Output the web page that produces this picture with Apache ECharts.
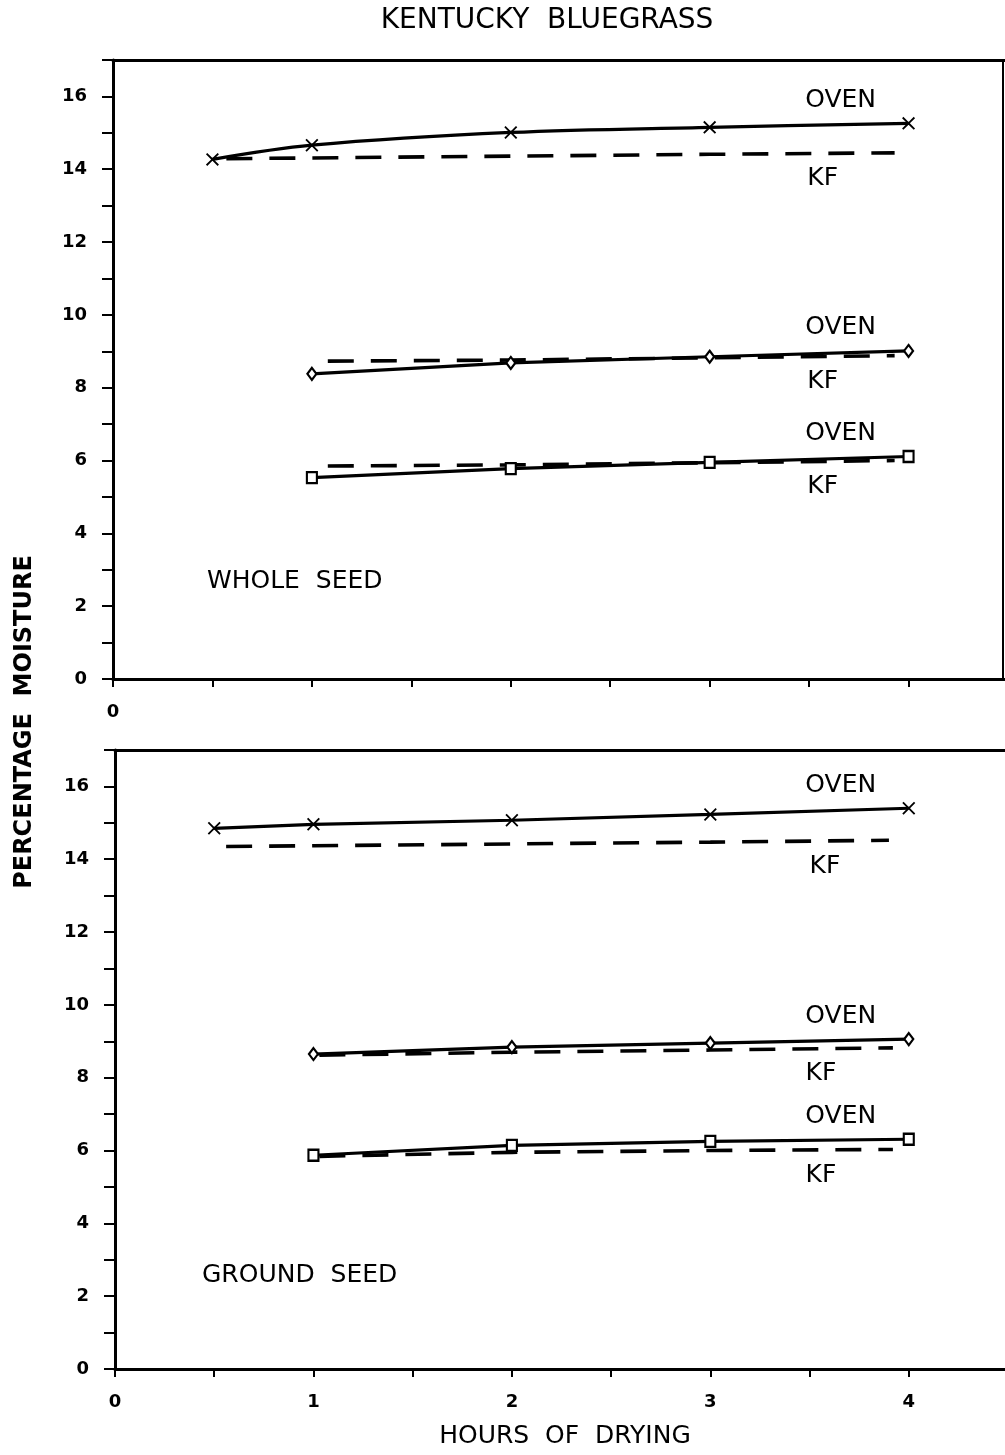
<!DOCTYPE html>
<html><head><meta charset="utf-8">
<script src="https://cdn.jsdelivr.net/npm/echarts@6/dist/echarts.min.js"></script>
<style>html,body{margin:0;padding:0;background:#fff}#c{width:1005px;height:1455px}</style>
</head><body><div id="c"></div>
<script>
// ---------- data ----------
const ovenHighX = [0.5, 1, 2, 3, 4];
const ovenX = [1, 2, 3, 4];
// Whole seed
const wsOvenHigh = [14.27, 14.66, 15.01, 15.15, 15.26];
const wsKfHighX = [0.57, 1, 2, 3, 3.93];
const wsKfHigh = [14.29, 14.31, 14.36, 14.41, 14.45];
const wsOvenMid = [8.38, 8.68, 8.85, 9.01];
const wsKfMidX = [1.08, 2, 3, 3.93];
const wsKfMid = [8.73, 8.76, 8.82, 8.88];
const wsOvenLow = [5.53, 5.78, 5.95, 6.11];
const wsKfLowX = [1.08, 2, 3, 3.93];
const wsKfLow = [5.85, 5.88, 5.94, 6.0];
// Ground seed
const gsOvenHigh = [14.85, 14.96, 15.07, 15.23, 15.4];
const gsKfHighX = [0.56, 1, 2, 3, 3.9];
const gsKfHigh = [14.35, 14.37, 14.42, 14.47, 14.52];
const gsOvenMid = [8.65, 8.84, 8.95, 9.06];
const gsKfMidX = [1.03, 2, 3, 3.92];
const gsKfMid = [8.62, 8.7, 8.76, 8.82];
const gsOvenLow = [5.87, 6.14, 6.25, 6.31];
const gsKfLowX = [1.03, 2, 3, 3.92];
const gsKfLow = [5.84, 5.95, 6.0, 6.03];

const texts = {
  title: 'KENTUCKY  BLUEGRASS',
  yName: 'PERCENTAGE  MOISTURE',
  xName: 'HOURS  OF  DRYING',
  panel1: 'WHOLE  SEED',
  panel2: 'GROUND  SEED',
  oven: 'OVEN',
  kf: 'KF'
};

// ---------- styling ----------
const FONT = 'DejaVu Sans';
const crossPath = 'path://M0,1L1,0L5,4L9,0L10,1L6,5L10,9L9,10L5,6L1,10L0,9L4,5Z';

function pts(xs, ys, labelText, offset) {
  return xs.map((x, i) => {
    const item = { value: [x, ys[i]] };
    if (i === xs.length - 1) {
      item.label = {
        show: true, formatter: labelText, position: 'inside', offset: offset,
        fontFamily: FONT, fontSize: 25, color: '#000', align: 'center', verticalAlign: 'middle'
      };
    }
    return item;
  });
}

function ovenSeries(gi, xs, ys, symbol, size, smooth, off) {
  return {
    type: 'line', xAxisIndex: gi * 2, yAxisIndex: gi * 2, smooth: smooth,
    data: pts(xs, ys, texts.oven, off),
    symbol: symbol, symbolSize: size, showAllSymbol: true,
    lineStyle: { color: '#000', width: 3.2 },
    itemStyle: symbol === crossPath ? { color: '#000' } : { color: '#fff', borderColor: '#000', borderWidth: 2.2 },
    label: { show: false }, z: 3
  };
}
function kfSeries(gi, xs, ys, off) {
  return {
    type: 'line', xAxisIndex: gi * 2, yAxisIndex: gi * 2,
    data: pts(xs, ys, texts.kf, off),
    symbol: 'circle', symbolSize: 1, showAllSymbol: true,
    itemStyle: { color: 'rgba(0,0,0,0)' },
    lineStyle: { color: '#000', width: 3.6, type: [26, 17] },
    label: { show: false }, z: 2
  };
}

const grids = [
  { left: 113, top: 60, width: 895, height: 619, outerBoundsMode: 'none', containLabel: false },
  { left: 115, top: 750, width: 893, height: 619, outerBoundsMode: 'none', containLabel: false }
];

function xAxes(gi, showAll) {
  return [{
    type: 'value', gridIndex: gi, min: 0, max: 4.5, interval: 0.5, position: 'bottom',
    axisLine: { show: true, onZero: false, lineStyle: { color: '#000', width: 3 } },
    axisTick: { show: true, inside: false, length: 8, lineStyle: { color: '#000', width: 2 } },
    splitLine: { show: false },
    axisLabel: {
      margin: 24, fontFamily: FONT, fontWeight: 'bold', fontSize: 18, color: '#000',
      formatter: v => (showAll ? (Number.isInteger(v) ? String(v) : '') : (v === 0 ? '0' : ''))
    }
  }, {
    type: 'value', gridIndex: gi, min: 0, max: 4.5, position: 'top',
    axisLine: { show: true, onZero: false, lineStyle: { color: '#000', width: 3 } },
    axisTick: { show: false }, axisLabel: { show: false }, splitLine: { show: false }
  }];
}
function yAxes(gi, rightBorder) {
  return [{
    type: 'value', gridIndex: gi, min: 0, max: 17, interval: 1, position: 'left',
    axisLine: { show: true, onZero: false, lineStyle: { color: '#000', width: 3 } },
    axisTick: { show: true, inside: false, length: 11, lineStyle: { color: '#000', width: 2 } },
    splitLine: { show: false },
    axisLabel: {
      margin: 26, fontFamily: FONT, fontWeight: 'bold', fontSize: 18, color: '#000',
      formatter: v => (v % 2 === 0 && v <= 16 ? String(v) : '')
    }
  }, {
    type: 'value', gridIndex: gi, min: 0, max: 17, position: 'right', offset: -5,
    axisLine: { show: rightBorder, onZero: false, lineStyle: { color: '#000', width: 2 } },
    axisTick: { show: false }, axisLabel: { show: false }, splitLine: { show: false }
  }];
}

const OVEN_OFF = [-68, -23];
const KF_OFF = [-72, 26];

const option = {
  animation: false,
  backgroundColor: '#fff',
  grid: grids,
  xAxis: [...xAxes(0, false), ...xAxes(1, true)],
  yAxis: [...yAxes(0, true), ...yAxes(1, false)],
  series: [
    ovenSeries(0, ovenHighX, wsOvenHigh, crossPath, 13, 0.35, OVEN_OFF),
    kfSeries(0, wsKfHighX, wsKfHigh, KF_OFF),
    ovenSeries(0, ovenX, wsOvenMid, 'diamond', [9, 12], false, OVEN_OFF),
    kfSeries(0, wsKfMidX, wsKfMid, KF_OFF),
    ovenSeries(0, ovenX, wsOvenLow, 'rect', [10, 11], false, OVEN_OFF),
    kfSeries(0, wsKfLowX, wsKfLow, KF_OFF),
    ovenSeries(1, ovenHighX, gsOvenHigh, crossPath, 13, false, OVEN_OFF),
    kfSeries(1, gsKfHighX, gsKfHigh, [-64, 26]),
    ovenSeries(1, ovenX, gsOvenMid, 'diamond', [9, 12], false, OVEN_OFF),
    kfSeries(1, gsKfMidX, gsKfMid, KF_OFF),
    ovenSeries(1, ovenX, gsOvenLow, 'rect', [10, 11], false, OVEN_OFF),
    kfSeries(1, gsKfLowX, gsKfLow, KF_OFF)
  ],
  graphic: [
    { type: 'text', x: 547, y: 7, style: { text: texts.title, font: '28px "' + FONT + '"', fill: '#000', textAlign: 'center' } },
    { type: 'text', x: 207, y: 569, style: { text: texts.panel1, font: '25px "' + FONT + '"', fill: '#000' } },
    { type: 'text', x: 202, y: 1263, style: { text: texts.panel2, font: '25px "' + FONT + '"', fill: '#000' } },
    { type: 'text', x: 565, y: 1424, style: { text: texts.xName, font: '25px "' + FONT + '"', fill: '#000', textAlign: 'center' } },
    { type: 'text', x: 25, y: 722, rotation: Math.PI / 2,
      style: { text: texts.yName, font: 'bold 24px "' + FONT + '"', fill: '#000', textAlign: 'center', textVerticalAlign: 'middle' } }
  ]
};

const chart = echarts.init(document.getElementById('c'), null, { renderer: 'canvas' });
chart.setOption(option);
</script>
</body></html>
